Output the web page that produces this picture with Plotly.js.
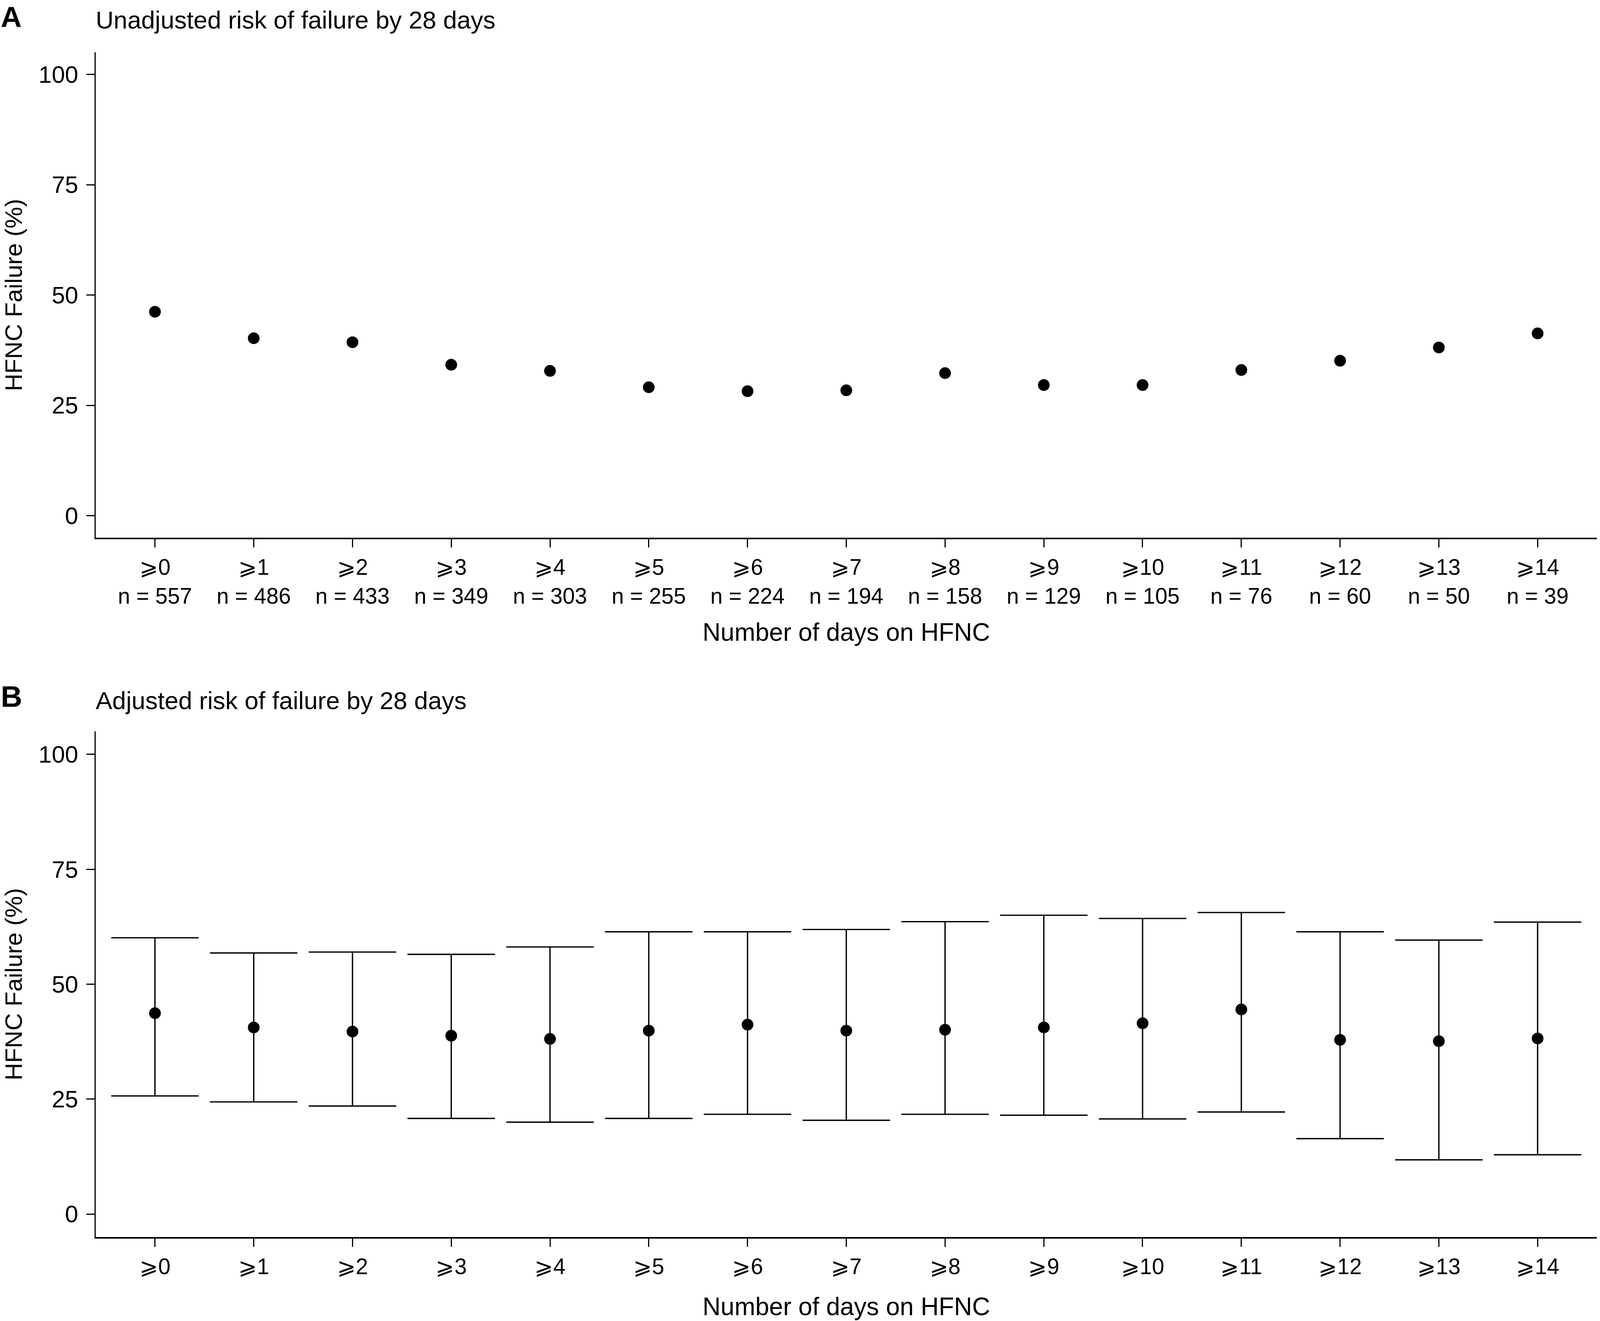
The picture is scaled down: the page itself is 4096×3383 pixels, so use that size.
<!DOCTYPE html>
<html>
<head>
<meta charset="utf-8">
<script src="https://cdn.plot.ly/plotly-3.0.1.min.js"></script>
<style>html,body{margin:0;padding:0;background:#fff;}#chart{width:4096px;height:3383px;}</style>
</head>
<body>
<div id="chart"></div>
<script>
// ---- data ----
const days = [0,1,2,3,4,5,6,7,8,9,10,11,12,13,14];
const dayLabels = ["⩾0","⩾1","⩾2","⩾3","⩾4","⩾5","⩾6","⩾7","⩾8","⩾9","⩾10","⩾11","⩾12","⩾13","⩾14"];
const nPatients = [557,486,433,349,303,255,224,194,158,129,105,76,60,50,39];
const unadjusted = [46.2,40.2,39.3,34.2,32.8,29.1,28.2,28.4,32.3,29.6,29.6,33.0,35.1,38.1,41.3];
const adjusted = [43.7,40.6,39.7,38.8,38.1,39.9,41.2,39.9,40.1,40.6,41.5,44.5,37.9,37.6,38.2];
const adjustedUpper = [60.1,56.8,57.0,56.5,58.1,61.4,61.4,61.9,63.6,65.0,64.3,65.6,61.4,59.6,63.5];
const adjustedLower = [25.7,24.4,23.5,20.8,20.0,20.8,21.7,20.4,21.7,21.5,20.7,22.2,16.4,11.8,12.9];
const yTicks = [0,25,50,75,100];

const W = 4096, H = 3383;
const FONT = "Liberation Sans, Arial, Helvetica, sans-serif";
const labelsA = dayLabels.map((d,i) => d + "<br>n = " + nPatients[i]);

const traceA = {
  x: days, y: unadjusted, type: "scatter", mode: "markers",
  xaxis: "x", yaxis: "y",
  marker: {color: "#000", size: 30}, hoverinfo: "skip", showlegend: false
};
const traceB = {
  x: days, y: adjusted, type: "scatter", mode: "markers",
  xaxis: "x2", yaxis: "y2",
  marker: {color: "#000", size: 30}, hoverinfo: "skip", showlegend: false,
  error_y: {
    type: "data", symmetric: false,
    array: adjusted.map((v,i) => adjustedUpper[i] - v),
    arrayminus: adjusted.map((v,i) => v - adjustedLower[i]),
    color: "#000", thickness: 3.4, width: 112
  }
};

function xAxis(anchor, labels, standoff) {
  return {
    anchor: anchor, domain: [0, 1], range: [-0.6, 14.6],
    tickmode: "array", tickvals: days, ticktext: labels,
    ticks: "outside", ticklen: 21, tickwidth: 3, tickcolor: "#000",
    showline: true, linewidth: 3.5, linecolor: "#000",
    showgrid: false, zeroline: false, automargin: false,
    tickfont: {family: FONT, size: 56.5, color: "#000"},
    ticklabelstandoff: 3,
    title: {text: "Number of days on HFNC", font: {family: FONT, size: 64, color: "#000"}, standoff: standoff}
  };
}
function yAxis(anchor, domain) {
  return {
    anchor: anchor, domain: domain, range: [-5, 105],
    tickmode: "array", tickvals: yTicks,
    ticks: "outside", ticklen: 21, tickwidth: 3, tickcolor: "#000",
    showline: true, linewidth: 3.5, linecolor: "#000",
    showgrid: false, zeroline: false, automargin: false,
    tickfont: {family: FONT, size: 61, color: "#000"},
    ticklabelstandoff: 8,
    title: {text: "HFNC Failure (%)", font: {family: FONT, size: 62, color: "#000"}, standoff: 30}
  };
}

const layout = {
  width: W, height: H,
  margin: {l: 245, r: 8, t: 0, b: 0},
  paper_bgcolor: "#fff", plot_bgcolor: "#fff",
  font: {family: FONT, color: "#000"},
  showlegend: false,
  xaxis: xAxis("y", labelsA, 40),
  yaxis: yAxis("x", [1 - 1377/H, 1 - 134/H]),
  xaxis2: xAxis("y2", dayLabels, 50),
  yaxis2: yAxis("x2", [1 - 3168/H, 1 - 1873/H]),
  annotations: [
    {text: "<b>A</b>", xref: "paper", yref: "paper", x: -245/(W-253), y: 1,
     xanchor: "left", yanchor: "top", showarrow: false, font: {family: FONT, size: 74, color: "#000"}},
    {text: "Unadjusted risk of failure by 28 days", xref: "paper", yref: "paper", x: -2/(W-253), y: 1 - 51/H,
     xanchor: "left", yanchor: "middle", showarrow: false, font: {family: FONT, size: 63.5, color: "#000"}},
    {text: "<b>B</b>", xref: "paper", yref: "paper", x: -245/(W-253), y: 1 - 1783/H,
     xanchor: "left", yanchor: "middle", showarrow: false, font: {family: FONT, size: 76, color: "#000"}},
    {text: "Adjusted risk of failure by 28 days", xref: "paper", yref: "paper", x: -2/(W-253), y: 1 - 1794/H,
     xanchor: "left", yanchor: "middle", showarrow: false, font: {family: FONT, size: 63.5, color: "#000"}}
  ]
};

Plotly.newPlot("chart", [traceA, traceB], layout, {staticPlot: true, displayModeBar: false});
</script>
</body>
</html>
